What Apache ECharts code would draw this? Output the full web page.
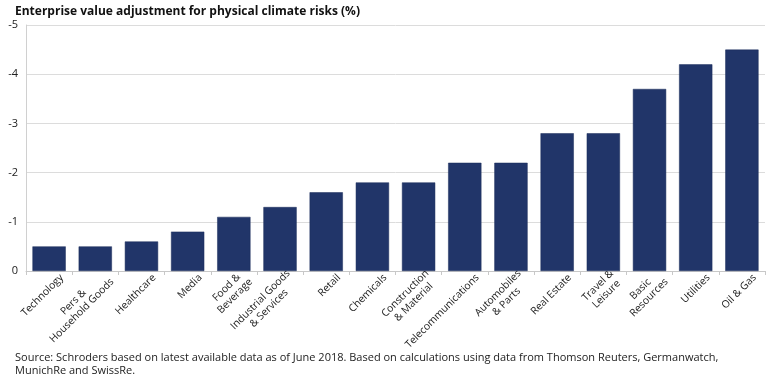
<!DOCTYPE html>
<html><head><meta charset="utf-8">
<script src="https://cdn.jsdelivr.net/npm/echarts@6/dist/echarts.min.js"></script>
<style>html,body{margin:0;padding:0;background:#fff}#c{width:770px;height:380px}</style>
</head><body><div id="c"></div>
<script>
const categories = ["Technology","Pers &\nHousehold Goods","Healthcare","Media","Food &\nBeverage","Industrial Goods\n& Services","Retail","Chemicals","Construction\n& Material","Telecommunications","Automobiles\n& Parts","Real Estate","Travel &\nLeisure","Basic\nResources","Utilities","Oil & Gas"];
const values = [-0.5,-0.5,-0.6,-0.8,-1.1,-1.3,-1.6,-1.8,-1.8,-2.2,-2.2,-2.8,-2.8,-3.7,-4.2,-4.5];
const titleText = "Enterprise value adjustment for physical climate risks (%)";
const sourceText = "Source: Schroders based on latest available data as of June 2018. Based on calculations using data from Thomson Reuters, Germanwatch,\nMunichRe and SwissRe.";
const font = "'Open Sans', 'Noto Sans', sans-serif";
const chart = echarts.init(document.getElementById('c'));
chart.setOption({
  animation:false,
  textStyle:{fontFamily:font},
  title:[
    {text:titleText,left:10,top:1,textStyle:{fontFamily:font,fontSize:12,fontWeight:'bold',color:'#111'}},
    {text:sourceText,left:10,top:347,textStyle:{fontFamily:font,fontSize:11,fontWeight:'normal',color:'#222',lineHeight:12.5}}
  ],
  grid:{left:26,right:5,top:25,bottom:109},
  xAxis:{type:'category',data:categories,
    axisLine:{lineStyle:{color:'#c8c8c8'}},
    axisTick:{show:true,alignWithLabel:false,length:4,lineStyle:{color:'#c8c8c8'}},
    axisLabel:{rotate:45,interval:0,fontSize:10.3,color:'#222',margin:5,align:'right',
      padding:[18,-9,0,0],
      formatter:function(v){return v.split('\n').map(function(s){return '{c|'+s+'}';}).join('\n');},
      rich:{c:{align:'center',fontSize:10.3,lineHeight:12,color:'#222',fontFamily:font}}
    }
  },
  yAxis:{type:'value',min:-5,max:0,interval:1,inverse:true,
    axisLine:{show:true,lineStyle:{color:'#d0d0d0'}},
    axisTick:{show:false},
    splitLine:{lineStyle:{color:'#dcdcdc'}},
    axisLabel:{fontSize:11,color:'#222',margin:8}
  },
  series:[{type:'bar',data:values,barWidth:'72%',itemStyle:{color:'#213569',borderColor:'#1a2c5a',borderWidth:0.5}}]
});
</script></body></html>
